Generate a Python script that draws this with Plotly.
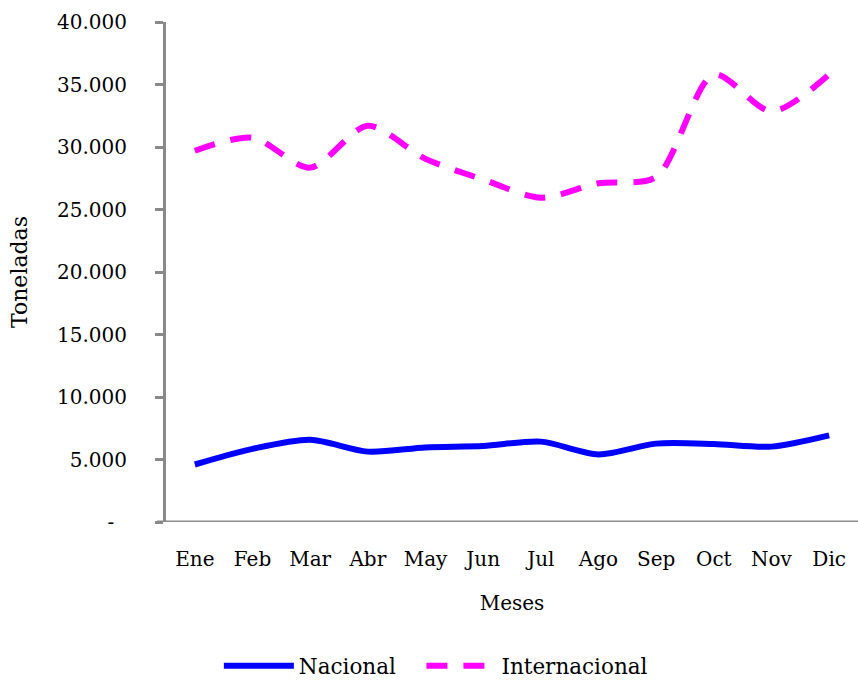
import plotly.graph_objects as go

meses = ["Ene", "Feb", "Mar", "Abr", "May", "Jun", "Jul", "Ago", "Sep", "Oct", "Nov", "Dic"]
nacional = [4600, 5850, 6580, 5630, 5970, 6080, 6430, 5410, 6270, 6240, 6030, 6930]
internacional = [29700, 30750, 28350, 31700, 29050, 27400, 25950, 27100, 27600, 35800, 32850, 35800]

y_ticks = [0, 5000, 10000, 15000, 20000, 25000, 30000, 35000, 40000]
y_labels = ["-\u00a0\u00a0", "5.000", "10.000", "15.000", "20.000", "25.000",
            "30.000", "35.000", "40.000"]

serif = "DejaVu Serif"

fig = go.Figure()
fig.add_trace(go.Scatter(
    x=meses, y=nacional, name="Nacional\u00a0\u00a0\u00a0", mode="lines",
    line=dict(color="#0000FF", width=6, shape="spline", smoothing=0.8),
))
fig.add_trace(go.Scatter(
    x=meses, y=internacional, name="Internacional", mode="lines",
    line=dict(color="#FF00FF", width=6, shape="spline", smoothing=0.8, dash="21px,16px"),
))

fig.update_layout(
    width=858, height=680,
    margin=dict(l=166, r=0, t=22, b=158),
    paper_bgcolor="white", plot_bgcolor="white",
    showlegend=True,
    legend=dict(
        orientation="h", xref="container", yref="container",
        x=0.508, y=0.021, xanchor="center", yanchor="middle",
        font=dict(family=serif, size=21.5, color="black"),
        itemwidth=70,
    ),
    xaxis=dict(
        range=[-0.5, 11.5], showgrid=False, zeroline=False,
        showline=False, ticks="",
        tickfont=dict(family=serif, size=20, color="black"),
        ticklabelstandoff=23,
        title=dict(text="Meses", font=dict(family=serif, size=20, color="black"), standoff=25),
    ),
    yaxis=dict(
        range=[0, 40000], tickvals=y_ticks, ticktext=y_labels,
        showgrid=False, zeroline=False,
        showline=True, linecolor="#898989", linewidth=3,
        ticks="outside", ticklen=8, tickwidth=3, tickcolor="#898989",
        tickfont=dict(family=serif, size=20, color="black"),
        ticklabelstandoff=24,
        title=dict(text="Toneladas", font=dict(family=serif, size=22, color="black"), standoff=24),
    ),
)

# horizontal category axis, extending slightly left of the value axis
fig.add_shape(type="line", xref="paper", yref="y", x0=-0.013, x1=1, y0=0, y1=0,
              line=dict(color="#898989", width=3))

fig.write_html("out.html")
